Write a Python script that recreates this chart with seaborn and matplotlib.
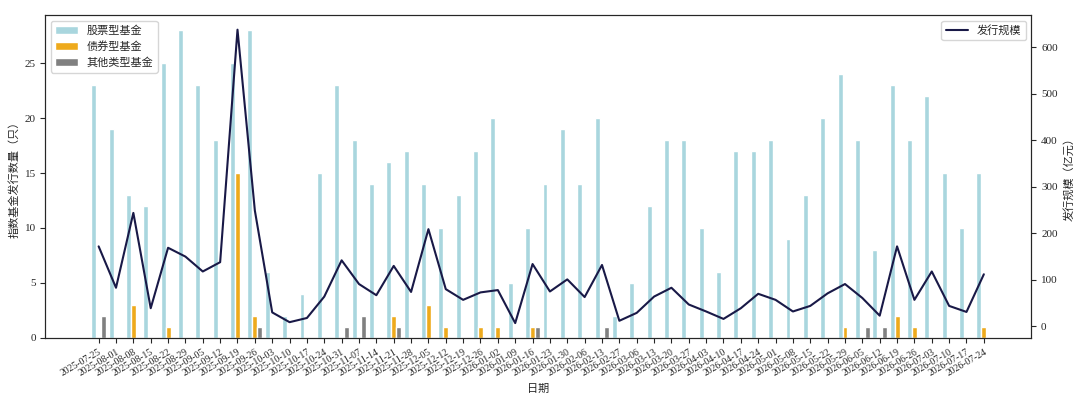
import numpy as np
import pandas as pd
import matplotlib
matplotlib.use("Agg")
import matplotlib.pyplot as plt
import seaborn as sns

# weekly dates (2026-02-20 has no issuance, skipped)
dates = [
    "2025-07-25", "2025-08-01", "2025-08-08", "2025-08-15", "2025-08-22", "2025-08-29",
    "2025-09-05", "2025-09-12", "2025-09-19", "2025-09-26", "2025-10-03", "2025-10-10",
    "2025-10-17", "2025-10-24", "2025-10-31", "2025-11-07", "2025-11-14", "2025-11-21",
    "2025-11-28", "2025-12-05", "2025-12-12", "2025-12-19", "2025-12-26", "2026-01-02",
    "2026-01-09", "2026-01-16", "2026-01-23", "2026-01-30", "2026-02-06", "2026-02-13",
    "2026-02-27", "2026-03-06", "2026-03-13", "2026-03-20", "2026-03-27", "2026-04-03",
    "2026-04-10", "2026-04-17", "2026-04-24", "2026-05-01", "2026-05-08", "2026-05-15",
    "2026-05-22", "2026-05-29", "2026-06-05", "2026-06-12", "2026-06-19", "2026-06-26",
    "2026-07-03", "2026-07-10", "2026-07-17", "2026-07-24",
]

stock_funds = [23, 19, 13, 12, 25, 28, 23, 18, 25, 28, 6, 2, 4, 15, 23, 18, 14, 16,
               17, 14, 10, 13, 17, 20, 5, 10, 14, 19, 14, 20, 2, 5, 12, 18, 18, 10,
               6, 17, 17, 18, 9, 13, 20, 24, 18, 8, 23, 18, 22, 15, 10, 15]
bond_funds = [0, 0, 3, 0, 1, 0, 0, 0, 15, 2, 0, 0, 0, 0, 0, 0, 0, 2,
              0, 3, 1, 0, 1, 1, 0, 1, 0, 0, 0, 0, 0, 0, 0, 0, 0, 0,
              0, 0, 0, 0, 0, 0, 0, 1, 0, 0, 2, 1, 0, 0, 0, 1]
other_funds = [2, 0, 0, 0, 0, 0, 0, 0, 0, 1, 0, 0, 0, 0, 1, 2, 0, 1,
               0, 0, 0, 0, 0, 0, 0, 1, 0, 0, 0, 1, 0, 0, 0, 0, 0, 0,
               0, 0, 0, 0, 0, 0, 0, 0, 1, 1, 0, 0, 0, 0, 0, 0]
issue_scale = [172, 83, 244, 39, 169, 150, 118, 138, 638, 249, 30, 9, 18, 64, 142, 91, 67, 130,
               74, 209, 80, 57, 73, 78, 7, 134, 75, 101, 63, 132, 12, 29, 64, 83, 47, 32,
               16, 39, 70, 57, 32, 44, 71, 91, 61, 23, 172, 57, 118, 44, 31, 112]

fund_types = ["股票型基金", "债券型基金", "其他类型基金"]
colors = ["#a9d6de", "#eeaa1c", "#808080"]

sns.set_style("ticks")
plt.rcParams["font.family"] = ["Liberation Serif", "Noto Sans CJK SC", "DejaVu Sans"]
plt.rcParams["axes.unicode_minus"] = False

df = pd.DataFrame({"日期": dates, fund_types[0]: stock_funds,
                   fund_types[1]: bond_funds, fund_types[2]: other_funds})
long_df = df.melt(id_vars="日期", var_name="类型", value_name="数量")

fig, ax = plt.subplots(figsize=(10.8, 4.17), dpi=100)
fig.subplots_adjust(left=0.042, right=0.955, top=0.964, bottom=0.19)

sns.barplot(data=long_df, x="日期", y="数量", hue="类型", hue_order=fund_types,
            palette=colors, width=0.85, gap=0.0, saturation=1, ax=ax)
for side in ["top", "right"]:
    ax.spines[side].set_visible(True)
ax.set_xlim(-3.07, len(dates) - 1 + 2.74)
ax.set_ylabel("指数基金发行数量（只）", fontsize=8)
ax.set_xlabel("日期", fontsize=8)
ax.tick_params(axis="y", labelsize=8)
ax.tick_params(axis="x", labelsize=7)
plt.setp(ax.get_xticklabels(), rotation=30, ha="right", rotation_mode="anchor")
ax.legend(loc="upper left", fontsize=8, title=None)

ax2 = ax.twinx()
sns.lineplot(x=np.arange(len(dates)), y=issue_scale, color="#191947",
             linewidth=1.5, label="发行规模", ax=ax2)
ax2.set_ylabel("发行规模（亿元）", fontsize=8)
ax2.tick_params(axis="y", labelsize=8)
ax2.legend(loc="upper right", fontsize=8)

fig.savefig("out.png", dpi=100)
